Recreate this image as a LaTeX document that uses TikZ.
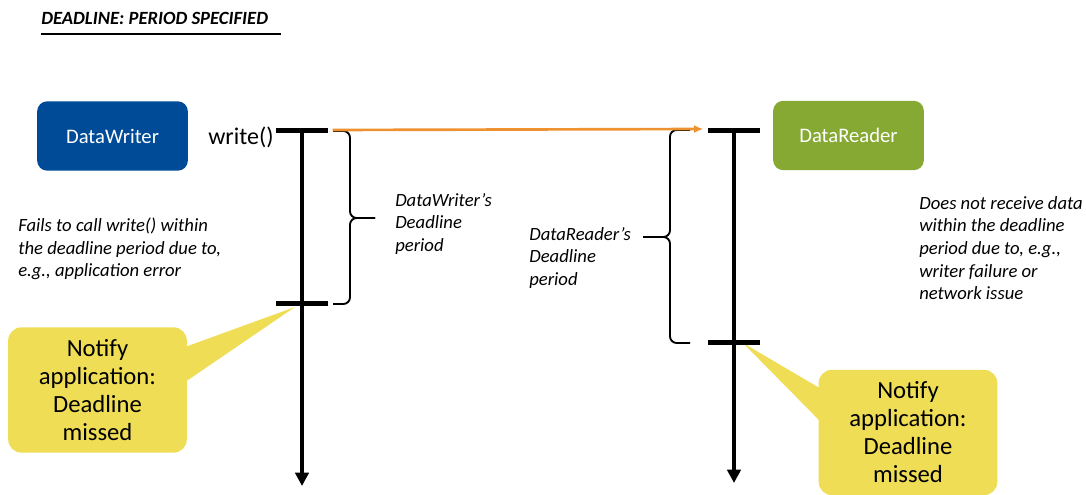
\documentclass[tikz,border=0pt]{standalone}
\usepackage{fontspec}
\setmainfont{Carlito}
\usetikzlibrary{arrows.meta,calc}
\definecolor{ink}{HTML}{000000}
\definecolor{writerblue}{HTML}{004B97}
\definecolor{readergreen}{HTML}{86A934}
\definecolor{noteyellow}{HTML}{EEDD55}
\definecolor{sendorange}{HTML}{EE9130}

\begin{document}
\begin{tikzpicture}[x=0.75pt,y=-0.75pt,text=ink,
    entity/.style={rounded corners=7.5pt,minimum width=113pt,minimum height=52pt,
      text=white,font=\fontsize{15.5}{18}\selectfont},
    remark/.style={anchor=west,align=left,inner sep=0pt,
      font=\fontsize{14}{17}\selectfont\itshape},
    notebox/.style={fill=noteyellow,rounded corners=10pt,minimum width=134pt,
      minimum height=94pt,align=center,font=\fontsize{18.5}{21}\selectfont},
    timeline/.style={line width=3pt,-{Triangle[length=10pt,width=10pt]}},
    tickmark/.style={line width=3.75pt},
    period/.style={line width=1.4pt,rounded corners=5pt},
    send/.style={sendorange,line width=2pt,-{Latex[length=7pt,width=6pt]}}]
  \useasboundingbox (0,0) rectangle (1086,495);
  \pgfmathsetmacro{\tickhalf}{19.5}

  \node[anchor=base west,inner sep=0pt,font=\fontsize{14}{17}\selectfont\bfseries\itshape]
    (title) at (41,25) {DEADLINE: PERIOD SPECIFIED};
  \draw[line width=2.2pt] (title.base west |- 0,34) -- (281,34);

  % time axes of the two entities
  \coordinate (wtop) at (302,131);
  \coordinate (wmiss) at (302,304);
  \coordinate (wend) at (302,486);
  \coordinate (rtop) at (734,131);
  \coordinate (rmiss) at (734,343);
  \coordinate (rend) at (734,483);

  % callouts go underneath the axes
  \node[notebox] (leftnote) at (97.5,390) {Notify\\application:\\Deadline\\missed};
  \fill[noteyellow] ($(leftnote.east)+(-2,-43)$) -- ($(wmiss)+(-7,3)$)
    -- ($(leftnote.east)+(-2,-8)$) -- cycle;
  \node[notebox] (rightnote) at (908,432.5) {Notify\\application:\\Deadline\\missed};
  \fill[noteyellow] ($(rightnote.west)+(2,-44)$) -- ($(rmiss)+(9,0)$)
    -- ($(rightnote.west)+(2,-11)$) -- cycle;

  \draw[timeline] (wtop) -- (wend);
  \draw[timeline] (rtop) -- (rend);
  \foreach \p in {wtop,wmiss,rtop,rmiss}
    \draw[tickmark] ([xshift=-\tickhalf pt]\p) -- ([xshift=\tickhalf pt]\p);

  % deadline braces, drawn as two halves meeting at the point
  \coordinate (wpoint) at (375,218);
  \draw[period] (333,131) -| (350,218) -- (wpoint);
  \draw[period] (333,304) -| (350,218) -- (wpoint);
  \coordinate (rpoint) at (643,237);
  \draw[period] (690,130) -| (670,237) -- (rpoint);
  \draw[period] (690,343) -| (670,237) -- (rpoint);

  \draw[send] ([xshift=23pt,yshift=0.75pt]wtop) -- ([xshift=-23pt,yshift=1.5pt]rtop);

  \node[entity,fill=writerblue] (writer) at (112.5,136) {DataWriter};
  \node[entity,fill=readergreen] (reader) at (848.5,135.5) {DataReader};
  \node[anchor=west,inner sep=0pt,font=\fontsize{18}{20}\selectfont] (call) at (208,137) {write()};

  \node[remark] (wperiod) at (395,224) {DataWriter’s\\Deadline\\period};
  \node[remark] (rperiod) at (529,258) {DataReader’s\\Deadline\\period};
  \node[remark] (wnote) at (18,249) {Fails to call write() within\\the deadline period due to,\\e.g., application error};
  \node[remark] (rnote) at (919,248) {Does not receive data\\within the deadline\\period due to, e.g.,\\writer failure or\\network issue};
\end{tikzpicture}
\end{document}
